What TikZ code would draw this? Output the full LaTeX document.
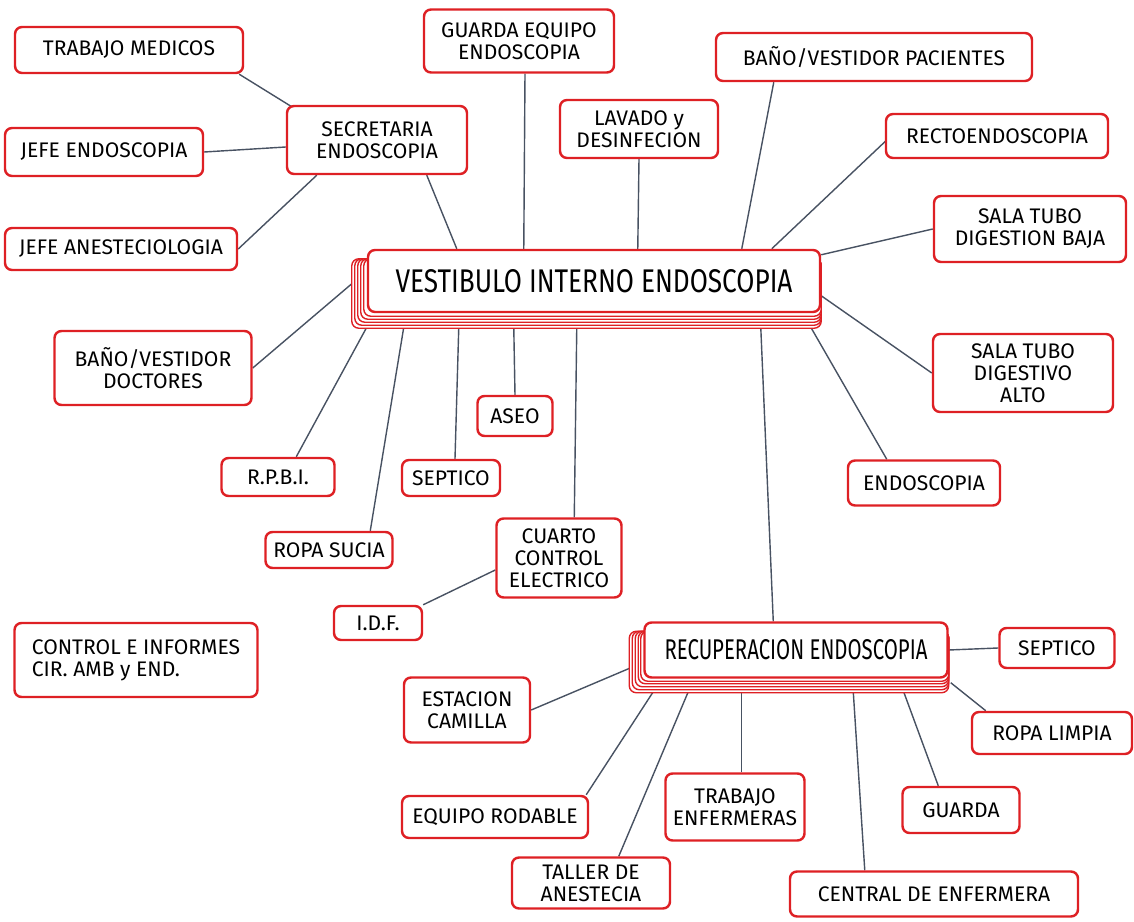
\documentclass[tikz,border=0pt]{standalone}
\usepackage{fontspec}
\setmainfont{Fira Sans}
\usepackage{graphicx}
\definecolor{hred}{RGB}{222,32,36}
\definecolor{hline}{RGB}{72,82,98}
\pgfdeclarelayer{lines}
\pgfdeclarelayer{stack}
\pgfsetlayers{lines,stack,main}
\tikzset{
 box/.style={draw=hred, line width=1.4pt, rounded corners=4pt, fill=white, inner sep=0pt, align=center, font=\fontsize{12}{12.5}\selectfont},
 sz/.style 2 args={minimum width=#1*0.02cm, minimum height=#2*0.02cm},
 conn/.style={draw=hline, line width=0.8pt},
 stk/.style={draw=hred, line width=0.8pt, fill=white, rounded corners=4pt},
}
\begin{document}
\begin{tikzpicture}[x=0.02cm,y=-0.02cm]
\useasboundingbox (0,0) rectangle (1134,922);
\node[box,sz={228}{46}] (tm) at (129,50) {TRABAJO MEDICOS};
\node[box,sz={198}{48}] (je) at (104,152) {JEFE ENDOSCOPIA};
\node[box,sz={232}{42}] (ja) at (121,249) {JEFE ANESTECIOLOGIA};
\node[box,sz={180}{68}] (sec) at (377,140) {SECRETARIA\\ENDOSCOPIA};
\node[box,sz={190}{63}] (ge) at (519,41) {GUARDA EQUIPO\\ENDOSCOPIA};
\node[box,sz={158}{58}] (lav) at (639,129) {LAVADO y\\DESINFECION};
\node[box,sz={316}{48}] (bp) at (874,57) {BAÑO/VESTIDOR PACIENTES};
\node[box,sz={222}{44}] (rec) at (997,136) {RECTOENDOSCOPIA};
\node[box,sz={192}{66}] (stb) at (1030,229) {SALA TUBO\\DIGESTION BAJA};
\node[box,sz={180}{78}] (sta) at (1023,373) {SALA TUBO\\DIGESTIVO\\ALTO};
\node[box,sz={197}{74}] (bd) at (153,368) {BAÑO/VESTIDOR\\DOCTORES};
\node[box,sz={113}{38}] (rp) at (278,477) {R.P.B.I.};
\node[box,sz={98}{36}] (sep1) at (451,478) {SEPTICO};
\node[box,sz={75}{40}] (aseo) at (515,416) {ASEO};
\node[box,sz={152}{45}] (endo) at (924,483) {ENDOSCOPIA};
\node[box,sz={127}{36}] (rs) at (329,550) {ROPA SUCIA};
\node[box,sz={125}{79}] (cce) at (559,558) {CUARTO\\CONTROL\\ELECTRICO};
\node[box,sz={88}{34}] (idf) at (378,623) {I.D.F.};
\node[box,sz={243}{74},align=left] (ci) at (136,660) {CONTROL E INFORMES\\CIR. AMB y END.};
\node[box,sz={115}{40}] (sep2) at (1057,648) {SEPTICO};
\node[box,sz={126}{65}] (ec) at (467,710) {ESTACION\\CAMILLA};
\node[box,sz={160}{42}] (rl) at (1052,733) {ROPA LIMPIA};
\node[box,sz={186}{42}] (er) at (495,817) {EQUIPO RODABLE};
\node[box,sz={139}{67}] (te) at (735,807) {TRABAJO\\ENFERMERAS};
\node[box,sz={117}{46}] (gu) at (961,810) {GUARDA};
\node[box,sz={158}{51}] (ta) at (591,883) {TALLER DE\\ANESTECIA};
\node[box,sz={288}{45}] (ce) at (934,894) {CENTRAL DE ENFERMERA};
\node[box,sz={452}{62}] (main) at (594,281) {\resizebox{7.94cm}{0.46cm}{VESTIBULO INTERNO ENDOSCOPIA}};
\node[box,sz={303}{55}] (rcp) at (796,650) {\resizebox{5.26cm}{0.40cm}{RECUPERACION ENDOSCOPIA}};
\begin{pgfonlayer}{stack}
\foreach \d in {15,12,9,6,3}
  \draw[stk] ([shift={(-\d,10)}]main.north west) rectangle ([shift={(0,\d)}]main.south east);
\foreach \d in {14,11,8,5,2.5}
  \draw[stk] ([shift={(-\d,10)}]rcp.north west) rectangle ([shift={(0,\d)}]rcp.south east);
\end{pgfonlayer}
\begin{pgfonlayer}{lines}
\draw[conn] ([shift={(-5,0)}]tm.south east) -- ([shift={(6,2)}]sec.north west);
\draw[conn] (je.east) -- ([shift={(0,7)}]sec.west);
\draw[conn] (ja.east) -- ([shift={(31,0)}]sec.south west);
\draw[conn] ([shift={(141,0)}]sec.south west) -- ([shift={(90,0)}]main.north west);
\draw[conn] ([shift={(6,0)}]ge.south) -- ([shift={(157,0)}]main.north west);
\draw[conn] (lav.south) -- ([shift={(271,0)}]main.north west);
\draw[conn] ([shift={(59,0)}]bp.south west) -- ([shift={(375,0)}]main.north west);
\draw[conn] ([shift={(2,4)}]rec.west) -- ([shift={(405,0)}]main.north west);
\draw[conn] (stb.west) -- ([shift={(0,6)}]main.north east);
\draw[conn] (sta.west) -- ([shift={(0,47)}]main.north east);
\draw[conn] (bd.east) -- ([shift={(-15,35)}]main.north west);
\draw[conn] ([shift={(76,0)}]rp.north west) -- ([shift={(0,14)}]main.south west);
\draw[conn] ([shift={(106,0)}]rs.north west) -- ([shift={(37,14)}]main.south west);
\draw[conn] ([shift={(4,0)}]sep1.north) -- ([shift={(92,14)}]main.south west);
\draw[conn] (aseo.north) -- ([shift={(147,14)}]main.south west);
\draw[conn] ([shift={(79,0)}]cce.north west) -- ([shift={(210,14)}]main.south west);
\draw[conn] ([shift={(40,0)}]endo.north west) -- ([shift={(444,14)}]main.south west);
\draw[conn] ([shift={(130,0)}]rcp.north west) -- ([shift={(394,14)}]main.south west);
\draw[conn] (idf.north east) -- ([shift={(0,12)}]cce.west);
\draw[conn] (rcp.east) -- (sep2.west);
\draw[conn] (ec.east) -- ([shift={(-13,18)}]rcp.west);
\draw[conn] ([shift={(2,4)}]rcp.south east) -- ([shift={(15,0)}]rl.north west);
\draw[conn] ([shift={(-3,0)}]er.north east) -- ([shift={(10,13)}]rcp.south west);
\draw[conn] ([shift={(108,0)}]ta.north west) -- ([shift={(45,13)}]rcp.south west);
\draw[conn] ([shift={(77,0)}]te.north west) -- ([shift={(98,13)}]rcp.south west);
\draw[conn] ([shift={(76,0)}]ce.north west) -- ([shift={(210,13)}]rcp.south west);
\draw[conn] ([shift={(37,0)}]gu.north west) -- ([shift={(260,12)}]rcp.south west);
\end{pgfonlayer}
\end{tikzpicture}
\end{document}
